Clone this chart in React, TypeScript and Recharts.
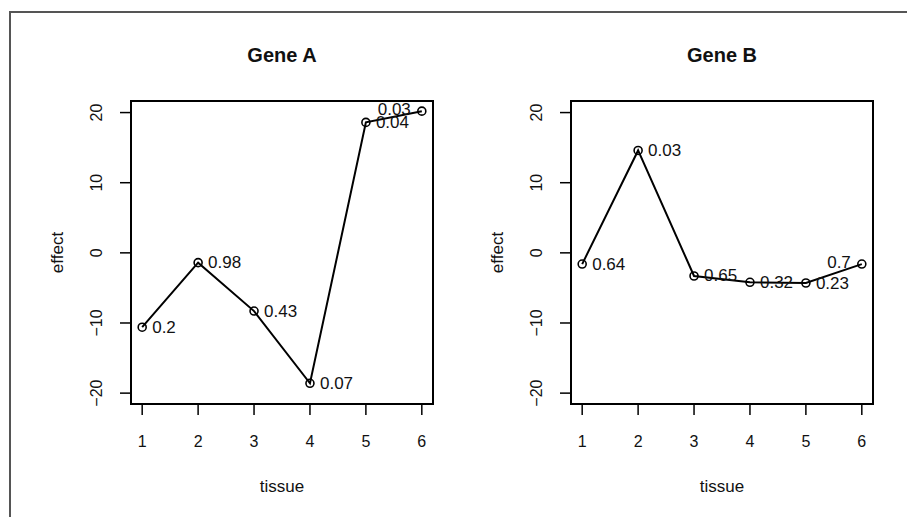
import { LineChart, Line, XAxis, YAxis, ReferenceArea, LabelList } from 'recharts';

const TISSUES = [1, 2, 3, 4, 5, 6];
const GENE_A_EFFECT = [-10.6, -1.4, -8.3, -18.6, 18.6, 20.2];
const GENE_A_PVALUE = ['0.2', '0.98', '0.43', '0.07', '0.04', '0.03'];
const GENE_A_SIDE = ['right', 'right', 'right', 'right', 'right', 'left'];
const GENE_B_EFFECT = [-1.6, 14.6, -3.3, -4.2, -4.3, -1.6];
const GENE_B_PVALUE = ['0.64', '0.03', '0.65', '0.32', '0.23', '0.7'];
const GENE_B_SIDE = ['right', 'right', 'right', 'right', 'right', 'left'];
const Y_TICKS = [-20, -10, 0, 10, 20];
const X_DOMAIN = [0.8, 6.2];
const Y_DOMAIN = [-21.55, 21.65];

const FONT = '"Liberation Sans", Arial, Helvetica, sans-serif';
const INK = '#111';

const XTick = (props: any) => {
    const { x, y, payload } = props;
    return (
        <text x={x} y={y} textAnchor="middle" dominantBaseline="central" fontSize={16} fill={INK} fontFamily={FONT}>
            {payload.value}
        </text>
    );
};

const YTick = (props: any) => {
    const { x, y, payload } = props;
    return (
        <text
            x={x}
            y={y}
            transform={`rotate(-90, ${x}, ${y})`}
            textAnchor="middle"
            dominantBaseline="central"
            fontSize={16}
            fill={INK}
            fontFamily={FONT}
        >
            {payload.value === 0 ? '0' : payload.value < 0 ? `\u2212${-payload.value}` : payload.value}
        </text>
    );
};

function GenePanel({ title, effect, pvalue, side, left }: { title: string; effect: number[]; pvalue: string[]; side: string[]; left: number }) {
    const data = TISSUES.map((t, i) => ({ tissue: t, effect: effect[i], p: pvalue[i] }));

    // p-value next to each point, to the right unless told otherwise
    const renderLabel = (props: any) => {
        const { x, y, value, index } = props;
        const isLeft = side[index] === 'left';
        return (
            <text
                x={isLeft ? x - 11 : x + 10}
                y={isLeft ? y - 2 : y}
                textAnchor={isLeft ? 'end' : 'start'}
                dominantBaseline="central"
                fontSize={17}
                fill={INK}
                fontFamily={FONT}
            >
                {value}
            </text>
        );
    };

    return (
        <div style={{ position: 'absolute', left, top: 0, width: 453, height: 517 }}>
            <div
                style={{
                    position: 'absolute',
                    left: 131,
                    width: 302,
                    top: 44,
                    textAlign: 'center',
                    fontFamily: FONT,
                    fontWeight: 'bold',
                    fontSize: 20,
                    color: INK,
                }}
            >
                {title}
            </div>
            <LineChart width={453} height={517} data={data} margin={{ top: 101, right: 20, bottom: 13, left: 10 }}>
                <XAxis
                    dataKey="tissue"
                    type="number"
                    domain={X_DOMAIN}
                    ticks={TISSUES}
                    allowDataOverflow
                    height={100}
                    axisLine={false}
                    tickLine={{ stroke: '#000', strokeWidth: 1.5 }}
                    tickSize={11}
                    tickMargin={26}
                    tick={<XTick />}
                    label={{
                        content: (p: any) => {
                            const vb = p.viewBox;
                            return (
                                <text x={vb.x + vb.width / 2} y={vb.y + 82} textAnchor="middle" dominantBaseline="central" fontSize={17} fill={INK} fontFamily={FONT}>
                                    tissue
                                </text>
                            );
                        },
                    }}
                />
                <YAxis
                    type="number"
                    domain={Y_DOMAIN}
                    ticks={Y_TICKS}
                    allowDataOverflow
                    width={121}
                    axisLine={false}
                    tickLine={{ stroke: '#000', strokeWidth: 1.5 }}
                    tickSize={11}
                    tickMargin={23}
                    tick={<YTick />}
                    label={{
                        content: (p: any) => {
                            const vb = p.viewBox;
                            const cx = vb.x + vb.width - 74;
                            const cy = vb.y + vb.height / 2;
                            return (
                                <text
                                    x={cx}
                                    y={cy}
                                    transform={`rotate(-90, ${cx}, ${cy})`}
                                    textAnchor="middle"
                                    dominantBaseline="central"
                                    fontSize={17}
                                    fill={INK}
                                    fontFamily={FONT}
                                >
                                    effect
                                </text>
                            );
                        },
                    }}
                />
                <ReferenceArea
                    x1={X_DOMAIN[0]}
                    x2={X_DOMAIN[1]}
                    y1={Y_DOMAIN[0]}
                    y2={Y_DOMAIN[1]}
                    fill="none"
                    fillOpacity={0}
                    stroke="#000"
                    strokeWidth={2}
                    ifOverflow="visible"
                />
                <Line
                    type="linear"
                    dataKey="effect"
                    stroke="#000"
                    strokeWidth={2}
                    dot={{ r: 4, fill: 'none', stroke: '#000', strokeWidth: 1.6 }}
                    activeDot={false}
                    isAnimationActive={false}
                >
                    <LabelList dataKey="p" content={renderLabel} />
                </Line>
            </LineChart>
        </div>
    );
}

export default function App() {
    return (
        <div style={{ position: 'fixed', left: 0, top: 0, width: 907, height: 517, background: '#fff', overflow: 'hidden' }}>
            <div
                style={{
                    position: 'absolute',
                    left: 9,
                    top: 11,
                    right: 0,
                    bottom: 0,
                    borderTop: '2px solid #555',
                    borderLeft: '2px solid #555',
                }}
            />
            <GenePanel title="Gene A" effect={GENE_A_EFFECT} pvalue={GENE_A_PVALUE} side={GENE_A_SIDE} left={0} />
            <GenePanel title="Gene B" effect={GENE_B_EFFECT} pvalue={GENE_B_PVALUE} side={GENE_B_SIDE} left={440} />
        </div>
    );
}
